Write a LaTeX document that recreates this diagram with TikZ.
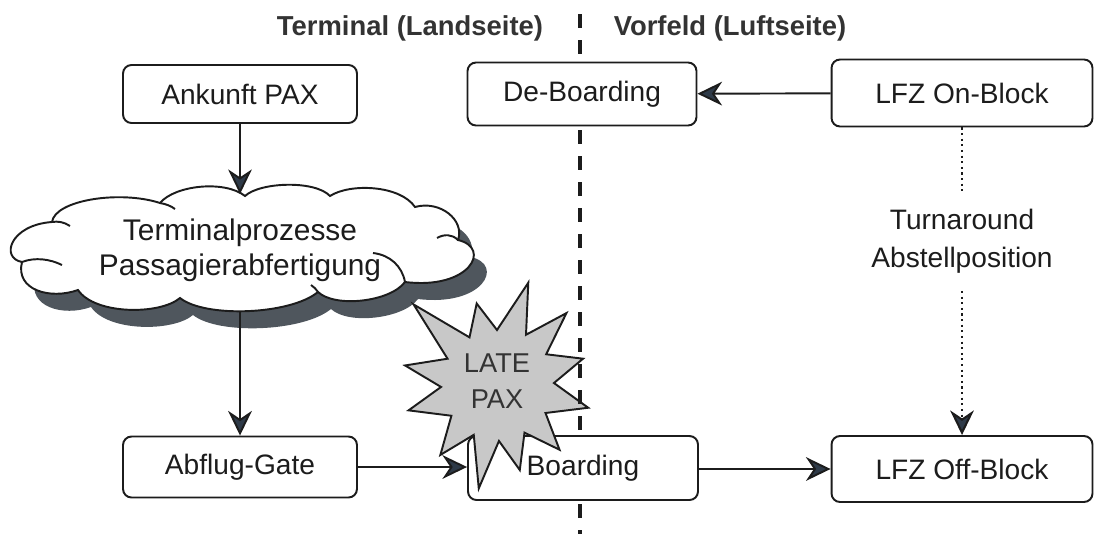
\documentclass[tikz,border=0pt]{standalone}
\usepackage{fontspec}
\setmainfont{Liberation Sans}
\usetikzlibrary{arrows.meta}
\definecolor{ink}{HTML}{1C1C1C}
\definecolor{tipc}{HTML}{2E3A48}
\definecolor{shadowc}{HTML}{4F565D}
\definecolor{starc}{HTML}{C8C8C8}
\definecolor{headc}{HTML}{333333}
\begin{document}
\begin{tikzpicture}[x=0.02cm,y=-0.02cm,
  every node/.style={text=ink},
  proc/.style={draw=ink,line width=1.1pt,rounded corners=0.17cm,fill=white,inner sep=0pt},
  boxtext/.style={font=\fontsize{16}{19}\selectfont},
  tip/.style={-{Stealth[length=14pt,width=13.5pt,inset=4.5pt,fill=tipc]}},
  flow/.style={draw=ink,line width=1.1pt,tip},
  sep/.style={draw=ink,line width=2.3pt,dash pattern=on 8pt off 6.8pt},
  head/.style={font=\bfseries\fontsize{15.6}{18}\selectfont,text=headc},
  cloudline/.style={draw=ink,line width=1.1pt}]
\useasboundingbox (0,0) rectangle (1108,534);

% headings
\node[head] (hl) at (410,28) {Terminal (Landseite)};
\node[head] (hr) at (730,28) {Vorfeld (Luftseite)};

% cloud outline, used twice (shadow and face)
\def\cloudpath{(22,262) .. controls (0,258) and (10,225) .. (52,222)
  .. controls (55,200) and (120,190) .. (160,203)
  .. controls (175,185) and (225,180) .. (245,196)
  .. controls (260,182) and (315,180) .. (330,196)
  .. controls (350,183) and (400,185) .. (415,207)
  .. controls (440,200) and (465,220) .. (458,240)
  .. controls (492,248) and (470,290) .. (405,282)
  .. controls (390,302) and (335,308) .. (318,292)
  .. controls (290,315) and (205,318) .. (180,298)
  .. controls (160,315) and (95,315) .. (78,290)
  .. controls (50,300) and (15,290) .. (22,262) -- cycle}
\fill[shadowc,shift={(13,17)}] \cloudpath;
\filldraw[fill=white,cloudline] \cloudpath;
% inner curls where the puffs meet
\draw[cloudline] (22,262) .. controls (35,257) and (50,259) .. (62,265);
\draw[cloudline] (52,222) .. controls (58,221) and (64,222) .. (70,226);
\draw[cloudline] (160,203) .. controls (166,204) and (171,206) .. (175,209);
\draw[cloudline] (458,240) .. controls (452,234) and (444,234) .. (437,238);
\draw[cloudline] (405,282) .. controls (402,266) and (390,255) .. (373,253);
\draw[cloudline] (318,292) .. controls (316,289) and (314,287) .. (311,285);
\node[align=center,font=\fontsize{17}{20}\selectfont] (cloud) at (240,250)
  {Terminalprozesse\\Passagierabfertigung};
\coordinate (cloudtop) at (240,194);
\coordinate (cloudbot) at (240,312);

% process boxes
\node[proc,boxtext,minimum width=4.68cm,minimum height=1.16cm] (ank) at (240,94) {Ankunft PAX};
\node[proc,boxtext,minimum width=4.58cm,minimum height=1.26cm] (deb) at (582,94) {De-Boarding};
\node[proc,boxtext,minimum width=5.22cm,minimum height=1.34cm] (onb) at (962,93) {LFZ On-Block};
\node[proc,boxtext,minimum width=4.68cm,minimum height=1.22cm] (gate) at (240,467) {Abflug-Gate};
\node[proc,minimum width=4.60cm,minimum height=1.28cm] (brd) at (583,468) {};
\node[proc,boxtext,minimum width=5.22cm,minimum height=1.32cm] (offb) at (962,469) {LFZ Off-Block};

% late passengers burst (irregular twelve-point star)
\coordinate (late) at (497,385);
\begin{scope}[shift={(late)}]
\filldraw[fill=starc,draw=ink,line width=1.1pt,line join=miter]
  (-136:116) -- (-120:55) -- (-104:84) -- (-90:55) -- (-73:107) -- (-60:58)
  -- (-46:100) -- (-32:58) -- (-17:90) -- (-2:57) -- (14:94) -- (30:56)
  -- (46:90) -- (60:55) -- (75:88) -- (88:56) -- (100:105) -- (115:55)
  -- (129:90) -- (146:55) -- (164:92) -- (178:56) -- (192:94) -- (208:56) -- cycle;
\end{scope}
\node[align=center,text=headc,font=\fontsize{15.5}{20.5}\selectfont] (latetxt) at (497,381) {LATE\\PAX};
\node[boxtext] (brdlbl) at (brd) {Boarding};

% landside / airside boundary, interrupted by the boxes
\coordinate (s0) at (580,14);
\coordinate (s1) at (580,60);
\coordinate (s2) at (580,130);
\coordinate (s3) at (580,434);
\coordinate (s4) at (580,504);
\coordinate (s5) at (580,534);
\draw[sep] (s0) -- (s1);
\draw[sep] (s2) -- (s3);
\draw[sep] (s4) -- (s5);

% turnaround at the stand
\node[align=center,inner ysep=10pt,font=\fontsize{16}{21.5}\selectfont] (turn) at (962,241)
  {Turnaround\\Abstellposition};

% connectors
\draw[flow] (ank) -- (cloudtop);
\draw[flow] (cloudbot) -- (gate);
\draw[flow] (gate) -- (brd.west |- gate.east);
\draw[flow] (brd.east |- offb.west) -- (offb);
\draw[flow] (onb) -- (deb);
\draw[draw=ink,line width=1.2pt,dotted] (onb) -- (turn);
\draw[draw=ink,line width=1.2pt,dotted,tip] (turn) -- (offb);
\end{tikzpicture}
\end{document}
